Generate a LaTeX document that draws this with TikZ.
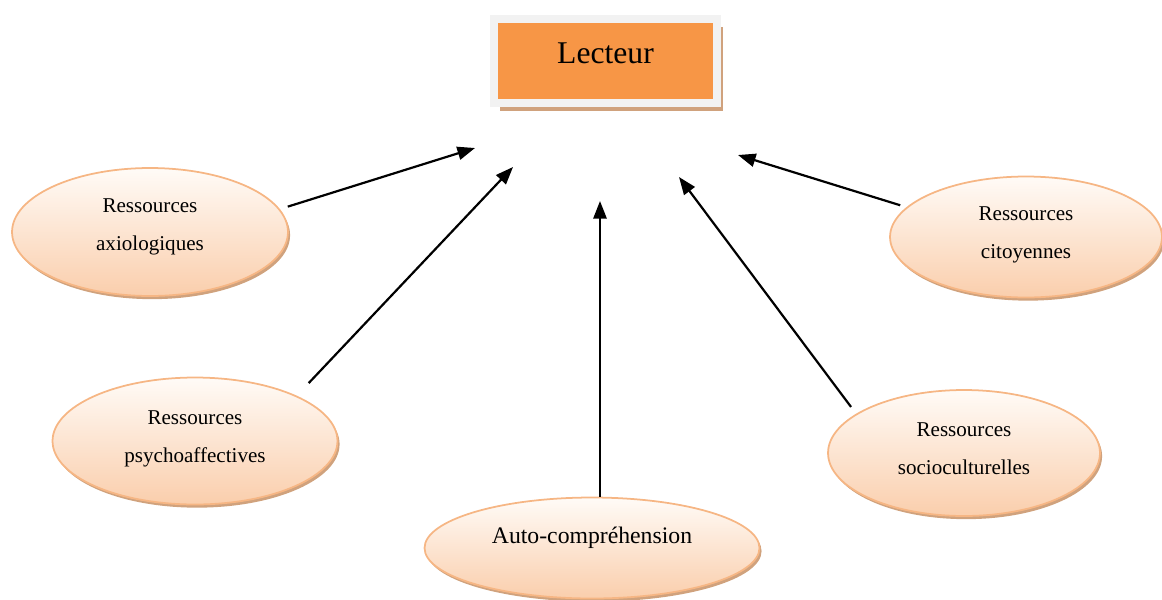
\documentclass[tikz,border=0pt]{standalone}
\usepackage{fontspec}
\setmainfont{Liberation Serif}
\usetikzlibrary{shapes.geometric, arrows.meta, shadows}

\definecolor{lectorange}{RGB}{247,150,70}
\definecolor{framegray}{RGB}{242,242,242}
\definecolor{shadowtan}{RGB}{208,162,125}
\definecolor{rimorange}{RGB}{246,182,132}
\definecolor{peach}{RGB}{250,206,172}
\definecolor{cream}{RGB}{255,251,247}

\newcommand{\lift}[2]{\raisebox{#1}[0pt][0pt]{\begin{tabular}{@{}c@{}}#2\end{tabular}}}

\begin{document}
\begin{tikzpicture}[x=0.02cm, y=-0.02cm, every node/.style={font=\fontsize{12}{21.5}\selectfont}]
\tikzstyle{bubble} = [ellipse, draw=rimorange, line width=1pt, top color=cream, bottom color=peach, inner sep=0pt, drop shadow={shadow xshift=1.2pt, shadow yshift=-1.8pt, fill=shadowtan, opacity=1}]
\tikzstyle{arrow} = [-{Triangle[length=10pt, width=7.5pt]}, line width=1.25pt]

\useasboundingbox (0,0) rectangle (1162,599);

% Nodes
\node[draw=framegray, line width=4.5pt, fill=lectorange, minimum width=4.46cm, minimum height=1.68cm, inner sep=0pt, font=\fontsize{18}{22}\selectfont, drop shadow={shadow xshift=3.5pt, shadow yshift=-4.5pt, fill=shadowtan, opacity=1}] (lecteur) at (605.5,61) {\raisebox{-1.5pt}[0pt][0pt]{Lecteur}};

\node[bubble, minimum width=5.52cm, minimum height=2.56cm] (axio) at (150,232) {\lift{1.6pt}{Ressources\\axiologiques}};
\node[bubble, minimum width=5.44cm, minimum height=2.42cm] (cito) at (1026,237) {\lift{0pt}{Ressources\\citoyennes}};
\node[bubble, minimum width=5.70cm, minimum height=2.54cm] (psycho) at (195,441) {\lift{0pt}{Ressources\\psychoaffectives}};
\node[bubble, minimum width=5.44cm, minimum height=2.52cm] (socio) at (964,453) {\lift{0pt}{Ressources\\socioculturelles}};
\node[bubble, minimum width=6.70cm, minimum height=2.02cm, font=\fontsize{13.5}{16}\selectfont] (auto) at (592,548) {\raisebox{2.8pt}[0pt][0pt]{Auto-compréhension}};

% Arrow tips
\coordinate (tipaxio) at (475,148);
\coordinate (tippsycho) at (513,167);
\coordinate (tipauto) at (600,201);
\coordinate (tipsocio) at (679,177);
\coordinate (tipcito) at (738,155);

% Arrows
\draw[arrow, shorten <=4.7pt] (axio.10) -- (tipaxio);
\draw[arrow, shorten <=9.9pt] (psycho.24) -- (tippsycho);
\draw[arrow] (tipauto |- auto.north) -- (tipauto);
\draw[arrow, shorten <=4.8pt] (socio.160.5) -- (tipsocio);
\draw[arrow, shorten <=3.7pt] (cito.166.6) -- (tipcito);

\end{tikzpicture}
\end{document}
